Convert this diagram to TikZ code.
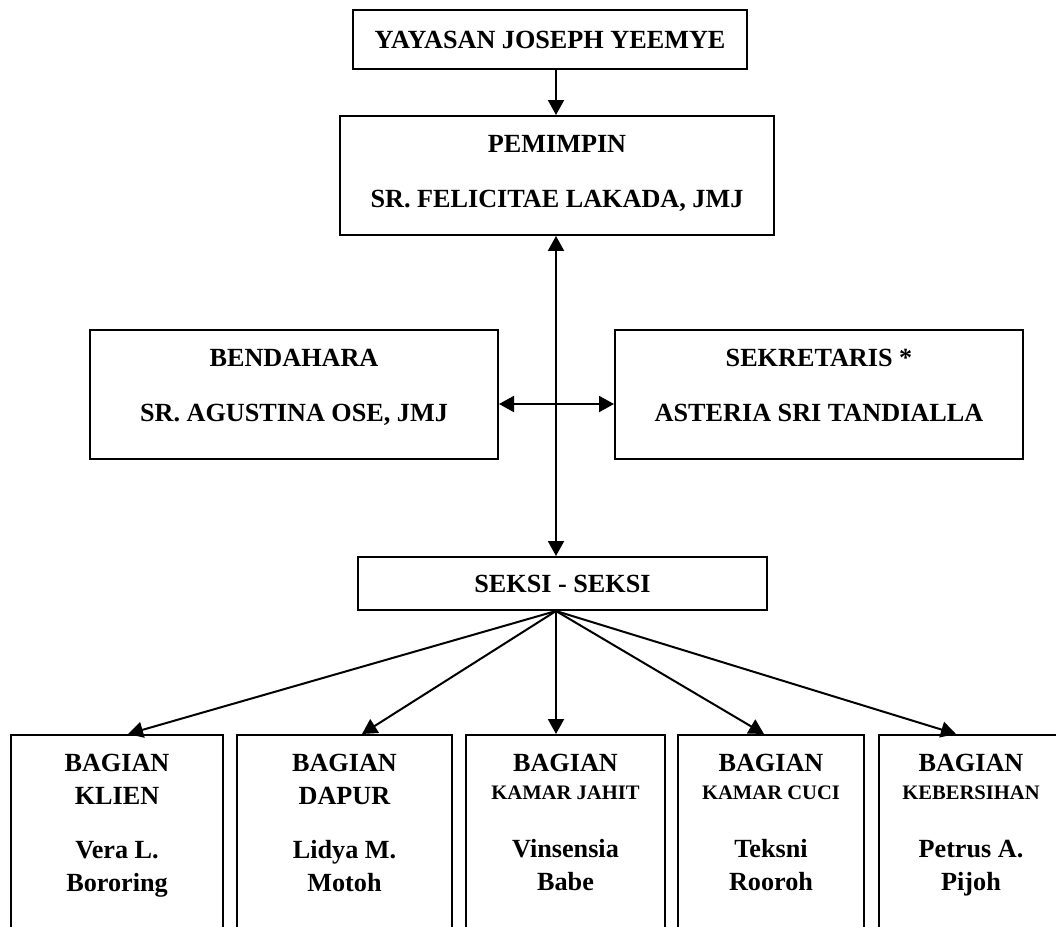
\documentclass[tikz,border=0pt]{standalone}
\usepackage{fontspec}
\setmainfont{Liberation Serif}
\usetikzlibrary{arrows.meta}
\newcommand{\subline}[1]{{\fontsize{10.3}{12}\selectfont #1}}

\begin{document}
\begin{tikzpicture}[x=0.5pt,y=-0.5pt,
    box/.style={draw,line width=1pt,align=center,inner xsep=0pt,
      font={\fontsize{13.1}{16.5}\selectfont\bfseries}},
    topbox/.style={box,anchor=north,inner ysep=9.65pt},
    link/.style={line width=1pt,-{Triangle[length=7.5pt,width=8pt]}},
    twoway/.style={line width=1pt,{Triangle[length=7.5pt,width=8pt]}-{Triangle[length=7.5pt,width=8pt]}}]
    \useasboundingbox (0,0) rectangle (1056,927);
    \clip (0,0) rectangle (1056,927);
    \coordinate (spine) at (556,0);
    \coordinate (side) at (556,404);

    % Yayasan and pemimpin
    \node[box,minimum width=197pt,minimum height=29.5pt,text height=9pt,text depth=0pt]
      (yay) at (550,39.5) {YAYASAN JOSEPH YEEMYE};
    \node[topbox,minimum width=217pt,text depth=4.1pt] (pem) at (557,115)
      {PEMIMPIN\\[11pt]SR. FELICITAE LAKADA, JMJ};
    \draw[link] (yay.south -| spine) -- (pem.north -| spine);

    % Bendahara and sekretaris
    \node[topbox,minimum width=204pt,text depth=9.1pt] (bend) at (294,329)
      {BENDAHARA\\[11pt]SR. AGUSTINA OSE, JMJ};
    \node[topbox,minimum width=204pt,text depth=9.1pt] (sek) at (819,329)
      {SEKRETARIS *\\[11pt]ASTERIA SRI TANDIALLA};
    \draw[twoway] (bend.east |- side) -- (sek.west |- side);

    % Seksi - seksi
    \node[box,minimum width=204.5pt,minimum height=26.5pt,text height=9pt,text depth=0pt]
      (seksi) at (562.5,583.5) {SEKSI - SEKSI};
    \draw[twoway] (pem.south -| spine) -- (seksi.north -| spine);

    % Bagian
    \node[topbox,minimum width=106pt,text depth=100pt] (klien) at (117,734)
      {BAGIAN\\KLIEN\\[10.5pt]Vera L.\\Bororing};
    \node[topbox,minimum width=107.5pt,text depth=100pt] (dapur) at (344.5,734)
      {BAGIAN\\DAPUR\\[10.5pt]Lidya M.\\Motoh};
    \node[topbox,minimum width=99.5pt,text depth=100pt] (jahit) at (565.5,734)
      {BAGIAN\\[-2.5pt]\subline{KAMAR JAHIT}\\[12.5pt]Vinsensia\\Babe};
    \node[topbox,minimum width=93pt,text depth=100pt] (cuci) at (771,734)
      {BAGIAN\\[-2.5pt]\subline{KAMAR CUCI}\\[12.5pt]Teksni\\Rooroh};
    \node[topbox,minimum width=92pt,text depth=100pt] (bersih) at (971,734)
      {BAGIAN\\[-2.5pt]\subline{KEBERSIHAN}\\[12.5pt]Petrus A.\\Pijoh};

    \draw[link] (seksi.south -| spine) -- ([xshift=5.5pt]klien.north);
    \draw[link] (seksi.south -| spine) -- ([xshift=8.75pt]dapur.north);
    \draw[link] (seksi.south -| spine) -- ([xshift=-4.75pt]jahit.north);
    \draw[link] (seksi.south -| spine) -- ([xshift=-3.5pt]cuci.north);
    \draw[link] (seksi.south -| spine) -- ([xshift=-7.5pt]bersih.north);
\end{tikzpicture}
\end{document}
